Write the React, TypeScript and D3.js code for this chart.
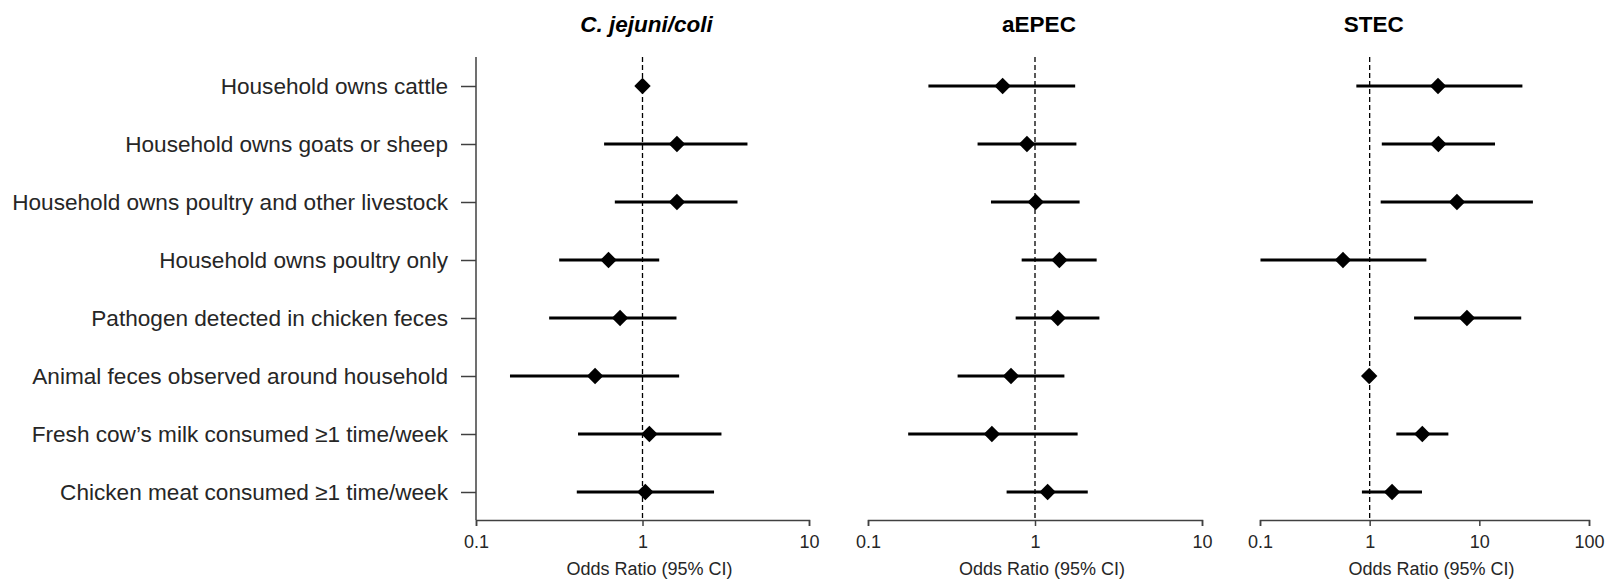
import React, { useEffect, useRef } from "react";
import * as d3 from "d3";

// row labels, top to bottom
const factors = [
  "Household owns cattle",
  "Household owns goats or sheep",
  "Household owns poultry and other livestock",
  "Household owns poultry only",
  "Pathogen detected in chicken feces",
  "Animal feces observed around household",
  "Fresh cow\u2019s milk consumed \u22651 time/week",
  "Chicken meat consumed \u22651 time/week",
];

// C. jejuni/coli
const campyOR = [1.0, 1.61, 1.61, 0.625, 0.733, 0.519, 1.1, 1.04];
const campyLo = [null, 0.588, 0.682, 0.316, 0.275, 0.16, 0.41, 0.403];
const campyHi = [null, 4.27, 3.72, 1.26, 1.6, 1.66, 2.98, 2.69];

// aEPEC
const aepecOR = [0.64, 0.895, 1.01, 1.4, 1.37, 0.718, 0.552, 1.19];
const aepecLo = [0.23, 0.453, 0.545, 0.832, 0.766, 0.344, 0.174, 0.676];
const aepecHi = [1.74, 1.77, 1.85, 2.34, 2.43, 1.5, 1.8, 2.07];

// STEC
const stecOR = [4.2, 4.23, 6.25, 0.571, 7.71, 0.99, 3.02, 1.6];
const stecLo = [0.756, 1.29, 1.26, 0.101, 2.54, null, 1.75, 0.85];
const stecHi = [24.7, 13.9, 30.8, 3.29, 24.1, null, 5.22, 3.0];

const titles = ["C. jejuni/coli", "aEPEC", "STEC"];
const ticks10 = [0.1, 1, 10];
const ticks100 = [0.1, 1, 10, 100];

const FONT = "'Liberation Sans', Arial, sans-serif";

export default function App() {
  const ref = useRef(null);

  useEffect(() => {
    const svg = d3.select(ref.current);
    svg.selectAll("*").remove();

    const top = 57;
    const axisY = 520;
    const y = d3.scalePoint().domain(factors).range([86, 492]);

    const panels = [
      { title: titles[0], italic: true, or: campyOR, lo: campyLo, hi: campyHi, range: [476, 809], domain: [0.1, 10], ticks: ticks10 },
      { title: titles[1], italic: false, or: aepecOR, lo: aepecLo, hi: aepecHi, range: [868, 1202], domain: [0.1, 10], ticks: ticks10 },
      { title: titles[2], italic: false, or: stecOR, lo: stecLo, hi: stecHi, range: [1260, 1589], domain: [0.1, 100], ticks: ticks100 },
    ];

    // row labels
    svg.append("g")
      .selectAll("text")
      .data(factors)
      .join("text")
      .attr("x", 448)
      .attr("y", d => y(d))
      .attr("dy", "0.35em")
      .attr("text-anchor", "end")
      .style("font-family", FONT)
      .style("font-size", "22.6px")
      .style("fill", "#262626")
      .text(d => d);

    // y axis on the first panel only
    const yAxis = svg.append("g").attr("transform", "translate(476,0)");
    yAxis.call(d3.axisLeft(y).tickSize(15).tickFormat(() => ""));
    yAxis.select(".domain").remove();
    yAxis.selectAll("line").attr("stroke", "#404040").attr("stroke-width", 1.5);
    yAxis.append("line")
      .attr("x1", 0).attr("x2", 0)
      .attr("y1", top).attr("y2", axisY)
      .attr("stroke", "#404040")
      .attr("stroke-width", 1.5);

    panels.forEach(p => {
      const x = d3.scaleLog().domain(p.domain).range(p.range);
      const g = svg.append("g");

      // x axis
      const xAxis = g.append("g")
        .attr("transform", `translate(0,${axisY})`)
        .call(d3.axisBottom(x).tickValues(p.ticks).tickSizeOuter(0).tickSize(6).tickPadding(9).tickFormat(d => String(d)));
      xAxis.select(".domain").attr("stroke", "#404040").attr("stroke-width", 1.5);
      xAxis.selectAll("line").attr("stroke", "#404040").attr("stroke-width", 1.5);
      xAxis.selectAll("text")
        .style("font-family", FONT)
        .style("font-size", "18px")
        .style("fill", "#262626");

      // reference line at OR = 1
      g.append("line")
        .attr("x1", x(1)).attr("x2", x(1))
        .attr("y1", top).attr("y2", axisY)
        .attr("stroke", "#000")
        .attr("stroke-width", 1.3)
        .attr("stroke-dasharray", "5,3");

      // panel title
      g.append("text")
        .attr("x", x(1) + 4)
        .attr("y", 32)
        .attr("text-anchor", "middle")
        .style("font-family", FONT)
        .style("font-size", "22.5px")
        .style("font-weight", "bold")
        .style("font-style", p.italic ? "italic" : "normal")
        .style("fill", "#000")
        .text(p.title);

      // axis title
      g.append("text")
        .attr("x", (p.range[0] + p.range[1]) / 2 + 7)
        .attr("y", 575)
        .attr("text-anchor", "middle")
        .style("font-family", FONT)
        .style("font-size", "18px")
        .style("fill", "#262626")
        .text("Odds Ratio (95% CI)");

      const rows = factors.map((f, i) => ({ f, or: p.or[i], lo: p.lo[i], hi: p.hi[i] }));

      // confidence intervals
      g.selectAll("line.ci")
        .data(rows.filter(d => d.lo != null))
        .join("line")
        .attr("class", "ci")
        .attr("x1", d => x(d.lo))
        .attr("x2", d => x(d.hi))
        .attr("y1", d => y(d.f))
        .attr("y2", d => y(d.f))
        .attr("stroke", "#000")
        .attr("stroke-width", 3);

      // point estimates
      const diamond = d3.symbol().type(d3.symbolSquare).size(135);
      g.selectAll("path.pt")
        .data(rows)
        .join("path")
        .attr("class", "pt")
        .attr("d", diamond())
        .attr("transform", d => `translate(${x(d.or)},${y(d.f)}) rotate(45)`)
        .attr("fill", "#000");
    });
  }, []);

  return (
    <svg
      ref={ref}
      width={1614}
      height={581}
      style={{ position: "absolute", left: 0, top: 0, background: "#fff" }}
    />
  );
}
